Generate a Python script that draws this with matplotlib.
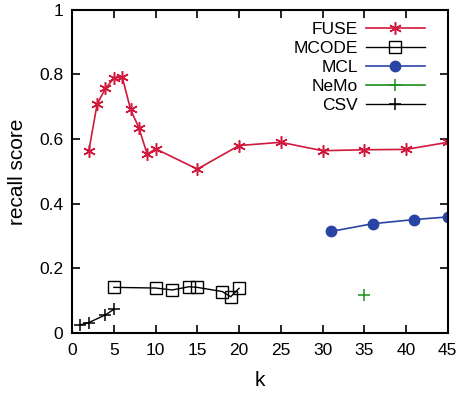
import matplotlib
matplotlib.use('Agg')
import matplotlib.pyplot as plt

fuse_k = [2, 3, 4, 5, 6, 7, 8, 9, 10, 15, 20, 25, 30, 35, 40, 45]
fuse_r = [0.563, 0.708, 0.757, 0.788, 0.793, 0.692, 0.635, 0.553, 0.570, 0.507,
          0.580, 0.590, 0.564, 0.567, 0.568, 0.590]

mcode_k = [5, 10, 12, 14, 15, 18, 19, 20]
mcode_r = [0.141, 0.139, 0.133, 0.143, 0.141, 0.128, 0.112, 0.138]

mcl_k = [31, 36, 41, 45]
mcl_r = [0.314, 0.338, 0.351, 0.359]

nemo_k = [35]
nemo_r = [0.118]

csv_k = [1, 2, 4, 5]
csv_r = [0.025, 0.032, 0.056, 0.073]

plt.rcParams['font.family'] = ['Liberation Sans', 'DejaVu Sans']
plt.rcParams['font.size'] = 12.5

fig = plt.figure(figsize=(4.65, 3.94), dpi=100)
ax = fig.add_axes([0.155, 0.155, 0.808, 0.82])

ax.plot(fuse_k, fuse_r, color='#d0193c', marker=(6, 2, 0), markersize=9,
        markeredgewidth=1.1, lw=1.2, label='FUSE')
ax.plot(mcode_k, mcode_r, color='black', marker='s', markersize=8,
        markerfacecolor='none', markeredgewidth=1.0, lw=1.0, label='MCODE')
ax.plot(mcl_k, mcl_r, color='#2a44a6', marker='o', markersize=7.5, lw=1.2,
        label='MCL')
ax.plot(nemo_k, nemo_r, color='#1e8c1e', marker='+', markersize=8,
        markeredgewidth=1.1, lw=1.2, label='NeMo')
ax.plot(csv_k, csv_r, color='black', marker='+', markersize=8,
        markeredgewidth=1.1, lw=1.0, label='CSV')

ax.set_xlim(0, 45)
ax.set_ylim(0, 1)
ax.set_xticks(range(0, 46, 5))
ax.set_yticks([0, 0.2, 0.4, 0.6, 0.8, 1])
ax.set_yticklabels(['0', '0.2', '0.4', '0.6', '0.8', '1'])
ax.tick_params(direction='in', top=True, right=True, length=6, width=1.2)
ax.tick_params(axis='x', pad=7)
ax.tick_params(axis='y', pad=6.5)
for s in ax.spines.values():
    s.set_linewidth(1.5)
ax.set_xlabel('k', va='center', ha='center', fontsize=15)
ax.set_ylabel('recall score', va='center', ha='center', fontsize=15)
ax.xaxis.set_label_coords(0.5, -0.146)
ax.yaxis.set_label_coords(-0.144, 0.5)

ax.legend(loc='upper right', markerfirst=False, frameon=False, handlelength=3.4,
          labelspacing=0.22, borderaxespad=0.5, handletextpad=0.45,
          bbox_to_anchor=(0.98, 1.01))

fig.savefig('out.png', dpi=100)
